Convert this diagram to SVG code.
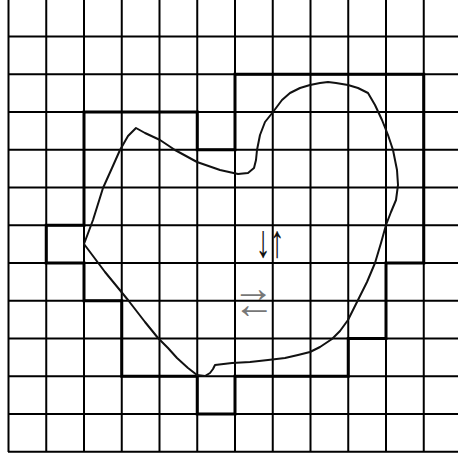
<svg xmlns="http://www.w3.org/2000/svg" width="458" height="459" viewBox="0 0 458 459">
<style>
.g{stroke:#000;stroke-width:2;fill:none}
.b{stroke:#000;stroke-width:3;fill:none;stroke-linejoin:miter}
.c{stroke:#111;stroke-width:2;fill:none;stroke-linejoin:round;stroke-linecap:round}
.v{font-family:"Liberation Serif",serif;font-size:46px;text-anchor:middle;fill:#111}
.h{font-family:"Liberation Serif",serif;font-size:42px;text-anchor:middle;fill:#777}
</style>
<rect width="458" height="459" fill="#fff"/>
<g id="grid" class="g">
<path d="M8.5,0V452 M46.25,0V452 M84,0V452 M121.75,0V452 M159.5,0V452 M197.25,0V452 M235,0V452 M272.75,0V452 M310.5,0V452 M348.25,0V452 M386,0V452 M423.75,0V452"/>
<path d="M8,36.5H458 M8,74.25H458 M8,112H458 M8,149.75H458 M8,187.5H458 M8,225.25H458 M8,263H458 M8,300.75H458 M8,338.5H458 M8,376.25H458 M8,414H458 M8,451.75H458"/>
</g>
<g id="region">
<path class="b" d="M235,74.25H423.75V263H386V338.5H348.25V376.25H235V414H197.25V376.25H121.75V300.75H84V263H46.25V225.25H84V112H197.25V149.75H235Z"/>
</g>
<g id="curve">
<path class="c" d="M84,244 L93,220 L103,188 L112,168 L120,150 L128,136 L136,128 L145,133 L160,140 L175,150 L197,162 L220,170 L238,174 L248,173 L254,168 L256,160 L257,150 L260,135 L265,122 L273,112 L282,100 L290,93 L300,88 L310,85 L320,83 L328,82 L336,83 L348,85 L358,88 L368,93 L375,105 L382,120 L388,135 L393,150 L397,170 L398,185 L396,200 L391,212 L386,225 L381,243 L375,263 L367,282 L358,300 L348,320 L340,331 L332,339 L320,347 L310,352 L298,355 L285,358 L268,360 L250,362 L232,363 L215,365 L213,369 L210,373 L205,376 L197,375 L188,368 L177,358 L168,348 L158,338 L145,322 L128,300 L105,272 Z"/>
</g>
<g id="arrows">
<g transform="scale(0.65,1)">
<text class="v" x="404.6" y="257">↓</text>
<text class="v" x="426.2" y="257">↑</text>
</g>
<text class="h" x="253" y="302">→</text>
<text class="h" x="254" y="318">←</text>
</g>
</svg>
